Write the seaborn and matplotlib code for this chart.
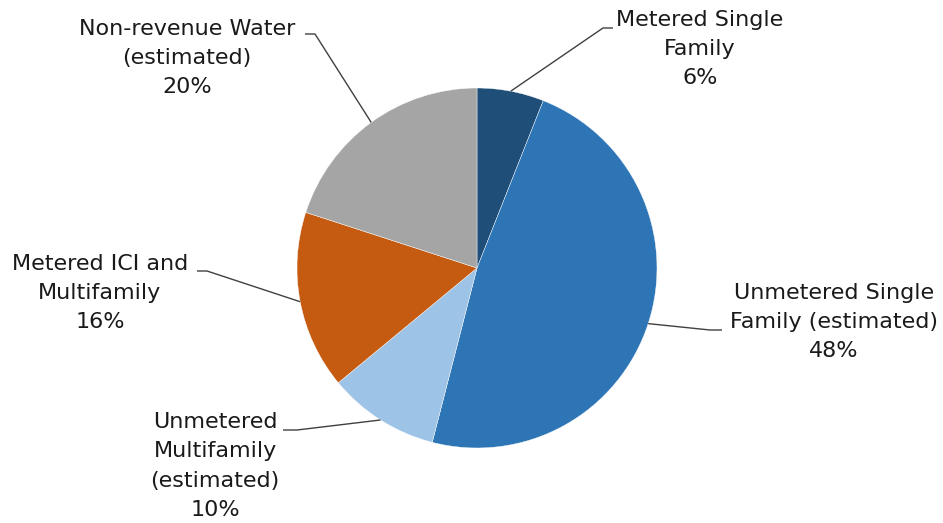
import numpy as np
import matplotlib
matplotlib.use("Agg")
import matplotlib.pyplot as plt
import seaborn as sns

# ---- data ----
categories = ["Metered Single\nFamily", "Unmetered Single\nFamily (estimated)",
              "Unmetered\nMultifamily\n(estimated)", "Metered ICI and\nMultifamily",
              "Non-revenue Water\n(estimated)"]
values = [6, 48, 10, 16, 20]
colors = ["#1F4E79", "#2E75B6", "#9DC3E6", "#C55A11", "#A5A5A5"]

# label layout (pixel positions in the 943x523 canvas)
label_xy = [(700, 49), (834, 322), (215, 466), (100, 293), (187, 58)]
elbow_xy = [((603, 28), (613, 28)), ((710, 330), (722, 330)),
            ((297, 430), (283, 430)), ((207, 271), (197, 271)),
            ((315, 34), (305, 34))]

sns.set_theme(style="white")
plt.rcParams['font.family'] = ['DejaVu Sans']

W, H = 943, 523
CX, CY, R = 477, 268, 180

fig = plt.figure(figsize=(W / 100, H / 100), dpi=100)
ax = fig.add_axes([0, 0, 1, 1])

def p2d(px, py):
    return (px - CX) / R, (CY - py) / R

wedges, _ = ax.pie(values, colors=colors, startangle=90, counterclock=False,
                   radius=1.0, center=(0, 0), frame=True,
                   wedgeprops=dict(edgecolor="white", linewidth=0.3))
ax.set_xlim(-CX / R, (W - CX) / R)
ax.set_ylim((CY - H) / R, CY / R)
ax.set_aspect("equal")
ax.axis("off")

for w, cat, v, (lx, ly), (e1, e2) in zip(wedges, categories, values, label_xy, elbow_xy):
    ang = np.deg2rad((w.theta1 + w.theta2) / 2)
    ex, ey = np.cos(ang), np.sin(ang)
    x1, y1 = p2d(*e1)
    x2, y2 = p2d(*e2)
    ax.plot([ex, x1, x2], [ey, y1, y2], color="#404040", lw=1.0, solid_capstyle="butt")
    tx, ty = p2d(lx, ly)
    ax.text(tx, ty, f"{cat}\n{v}%", ha="center", va="center", fontsize=16,
            color="#1a1a1a", linespacing=1.58)

fig.savefig("out.png", dpi=100, facecolor="white")
